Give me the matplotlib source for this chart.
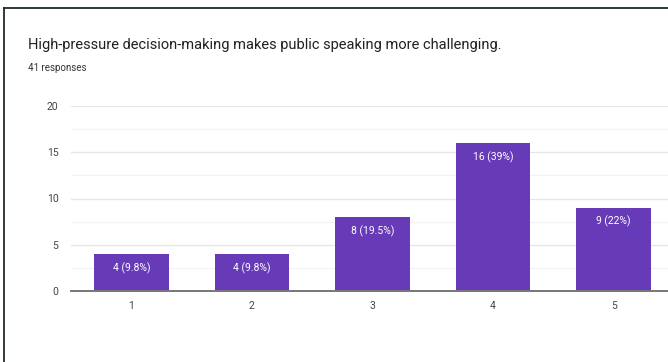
import matplotlib
matplotlib.use("Agg")
import matplotlib.pyplot as plt
from matplotlib.lines import Line2D
from matplotlib.ticker import MultipleLocator

plt.rcParams['font.family'] = ['Roboto', 'DejaVu Sans']

categories = ["1", "2", "3", "4", "5"]
counts = [4, 4, 8, 16, 9]
labels = ["4 (9.8%)", "4 (9.8%)", "8 (19.5%)", "16 (39%)", "9 (22%)"]
title = "High-pressure decision-making makes public speaking more challenging."
subtitle = "41 responses"

W, H = 668, 362
fig = plt.figure(figsize=(W / 100, H / 100), dpi=100)
fig.patch.set_facecolor("white")

# axes: left edge at x=71px, zero line at y=291px, top gridline at y=106px
ax_left, ax_right = 71, 674
ax_bottom, ax_top = 291, 106
ax = fig.add_axes([ax_left / W, 1 - ax_bottom / H,
                   (ax_right - ax_left) / W, (ax_bottom - ax_top) / H])

x = list(range(1, len(categories) + 1))
ax.bar(x, counts, width=0.62, color="#673ab7", zorder=3)
for xi, c, lab in zip(x, counts, labels):
    ax.annotate(lab, (xi, c), xytext=(0, -10), textcoords="offset points",
                ha="center", va="center", color="white", fontsize=7.5, zorder=4)

ax.set_xlim(0.5, 5.5)
ax.set_ylim(0, 20)
ax.set_xticks(x)
ax.set_xticklabels(categories)
ax.yaxis.set_major_locator(MultipleLocator(5))
ax.yaxis.set_minor_locator(MultipleLocator(2.5))
ax.grid(axis="y", which="major", color="#e6e6e6", linewidth=0.9, zorder=0)
ax.grid(axis="y", which="minor", color="#f3f3f3", linewidth=0.9, zorder=0)
for side in ("top", "right", "left"):
    ax.spines[side].set_visible(False)
ax.spines["bottom"].set_color("#777777")
ax.spines["bottom"].set_linewidth(1.4)
ax.spines["bottom"].set_zorder(5)
ax.tick_params(axis="both", which="both", length=0, labelsize=7.5, colors="#444444")
ax.tick_params(axis="y", pad=9)
ax.tick_params(axis="x", pad=7)

fig.text(28 / W, 1 - 45 / H, title, fontsize=10.5, color="#202124",
         ha="left", va="center")
fig.text(28 / W, 1 - 68 / H, subtitle, fontsize=7, color="#333333",
         ha="left", va="center")

# frame lines along the top and left
border = "#1e2c27"
fig.add_artist(Line2D([3.5 / W, 3.5 / W], [0, 1 - 7.5 / H],
                      transform=fig.transFigure, color=border, linewidth=1.3))
fig.add_artist(Line2D([3.5 / W, 1], [1 - 7.5 / H, 1 - 7.5 / H],
                      transform=fig.transFigure, color=border, linewidth=1.3))

fig.savefig("out.png", dpi=100, facecolor="white")
